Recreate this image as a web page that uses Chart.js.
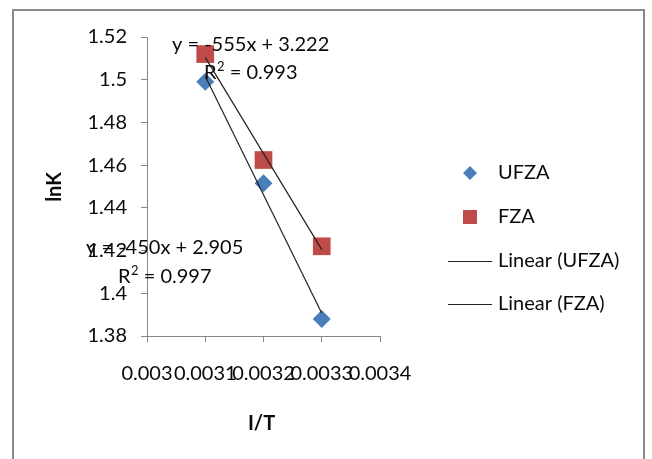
<!DOCTYPE html>
<html>
<head>
<meta charset="utf-8">
<script src="https://cdn.jsdelivr.net/npm/chart.js@4/dist/chart.umd.min.js"></script>
<style>
  body { margin: 0; background: #fff; }
  #wrap { width: 652px; height: 459px; }
</style>
</head>
<body>
<div id="wrap"><canvas id="grafico" width="652" height="459"></canvas></div>
<script>
// valores medidos
const invT = [0.0031, 0.0032, 0.0033];
const lnK_UFZA = [1.499, 1.4515, 1.388];
const lnK_FZA = [1.512, 1.4624, 1.422];
const nomes = ['UFZA', 'FZA'];
const cores = ['#4a7ebb', '#be4b48'];

const fonte = 'Lato, "Open Sans", sans-serif';

// regressão linear simples (mínimos quadrados)
function regressao(xs, ys) {
  const n = xs.length;
  const mx = xs.reduce((a, b) => a + b, 0) / n;
  const my = ys.reduce((a, b) => a + b, 0) / n;
  let sxy = 0, sxx = 0, syy = 0;
  for (let i = 0; i < n; i++) {
    sxy += (xs[i] - mx) * (ys[i] - my);
    sxx += (xs[i] - mx) ** 2;
    syy += (ys[i] - my) ** 2;
  }
  const a = sxy / sxx;
  const b = my - a * mx;
  return { a: a, b: b, r2: (sxy * sxy) / (sxx * syy) };
}

const regU = regressao(invT, lnK_UFZA);
const regF = regressao(invT, lnK_FZA);

function linhaTendencia(reg) {
  const x0 = Math.min(...invT), x1 = Math.max(...invT);
  return [{ x: x0, y: reg.a * x0 + reg.b }, { x: x1, y: reg.a * x1 + reg.b }];
}

function equacao(reg) {
  return 'y = ' + Math.round(reg.a) + 'x + ' + reg.b.toFixed(3);
}

function pontos(ys) {
  return invT.map((x, i) => ({ x: x, y: ys[i] }));
}

// escreve "R² = ..." com o 2 sobrescrito
function textoR2(ctx, r2, x, y) {
  ctx.font = '20px ' + fonte;
  ctx.fillText('R', x, y);
  const wR = ctx.measureText('R').width;
  ctx.font = '13px ' + fonte;
  ctx.fillText('2', x + wR + 0.5, y - 6);
  const w2 = ctx.measureText('2').width;
  ctx.font = '20px ' + fonte;
  ctx.fillText(' = ' + r2.toFixed(3), x + wR + w2 + 0.5, y);
}

// textos das equações, legenda, títulos e moldura
const extras = {
  id: 'extras',
  afterDraw(chart) {
    const ctx = chart.ctx;
    const xs = chart.scales.x;
    ctx.save();

    // moldura
    ctx.strokeStyle = '#8a8a8a';
    ctx.lineWidth = 2;
    ctx.strokeRect(13, 10, 631, 470);

    ctx.fillStyle = '#0a0a0a';
    ctx.font = '20px ' + fonte;
    ctx.textBaseline = 'middle';
    ctx.textAlign = 'left';
    ctx.fillText(equacao(regU), 172, 45);
    textoR2(ctx, regU.r2, 204, 73);
    ctx.fillText(equacao(regF), 86, 248);
    textoR2(ctx, regF.r2, 118, 277);

    // títulos dos eixos
    ctx.font = 'bold 20px ' + fonte;
    ctx.textAlign = 'center';
    ctx.fillText('I/T', (xs.left + xs.right) / 2 - 2, 424);
    ctx.save();
    ctx.translate(55, 187);
    ctx.rotate(-Math.PI / 2);
    ctx.fillText('lnK', 0, 0);
    ctx.restore();

    // legenda
    ctx.font = '20px ' + fonte;
    ctx.textAlign = 'left';
    ctx.fillStyle = cores[0];
    ctx.beginPath();
    ctx.moveTo(470, 166); ctx.lineTo(477, 173); ctx.lineTo(470, 180); ctx.lineTo(463, 173);
    ctx.closePath();
    ctx.fill();
    ctx.fillStyle = cores[1];
    ctx.fillRect(463, 210, 14, 14);

    ctx.strokeStyle = '#222';
    ctx.lineWidth = 1;
    [261, 304].forEach(y => {
      ctx.beginPath();
      ctx.moveTo(448, y + 0.5);
      ctx.lineTo(492, y + 0.5);
      ctx.stroke();
    });

    ctx.fillStyle = '#0a0a0a';
    ctx.fillText(nomes[0], 498, 173);
    ctx.fillText(nomes[1], 498, 217);
    ctx.fillText('Linear (' + nomes[0] + ')', 498, 261);
    ctx.fillText('Linear (' + nomes[1] + ')', 498, 304);
    ctx.restore();
  }
};

new Chart(document.getElementById('grafico'), {
  type: 'scatter',
  data: {
    datasets: [
      {
        label: 'Linear (' + nomes[0] + ')',
        type: 'line',
        data: linhaTendencia(regU),
        borderColor: '#222',
        borderWidth: 1.2,
        pointRadius: 0,
        order: 0
      },
      {
        label: 'Linear (' + nomes[1] + ')',
        type: 'line',
        data: linhaTendencia(regF),
        borderColor: '#222',
        borderWidth: 1.2,
        pointRadius: 0,
        order: 0
      },
      {
        label: nomes[0],
        data: pontos(lnK_UFZA),
        pointStyle: 'rectRot',
        pointRadius: 9,
        backgroundColor: cores[0],
        borderWidth: 0,
        order: 2
      },
      {
        label: nomes[1],
        data: pontos(lnK_FZA),
        pointStyle: 'rect',
        pointRadius: 12.5,
        backgroundColor: cores[1],
        borderWidth: 0,
        order: 1
      }
    ]
  },
  options: {
    responsive: false,
    animation: false,
    devicePixelRatio: 1,
    layout: { padding: { left: 0, top: 37, right: 272, bottom: 0 } },
    plugins: { legend: { display: false }, tooltip: { enabled: false } },
    scales: {
      x: {
        type: 'linear',
        min: 0.003,
        max: 0.0034,
        afterFit: s => { s.height = 123; },
        grid: { drawOnChartArea: false, tickLength: 6, color: '#868686' },
        border: { color: '#868686' },
        ticks: {
          stepSize: 0.0001,
          autoSkip: false,
          maxRotation: 0,
          padding: 20,
          color: '#0a0a0a',
          font: { family: fonte, size: 20 },
          callback: v => String(+v.toFixed(4))
        }
      },
      y: {
        min: 1.38,
        max: 1.52,
        afterFit: s => { s.width = 147; },
        grid: { drawOnChartArea: false, tickLength: 6, color: '#868686' },
        border: { color: '#868686' },
        ticks: {
          stepSize: 0.02,
          padding: 14,
          color: '#0a0a0a',
          font: { family: fonte, size: 20 },
          callback: v => String(+v.toFixed(2))
        }
      }
    }
  },
  plugins: [extras]
});
</script>
</body>
</html>
